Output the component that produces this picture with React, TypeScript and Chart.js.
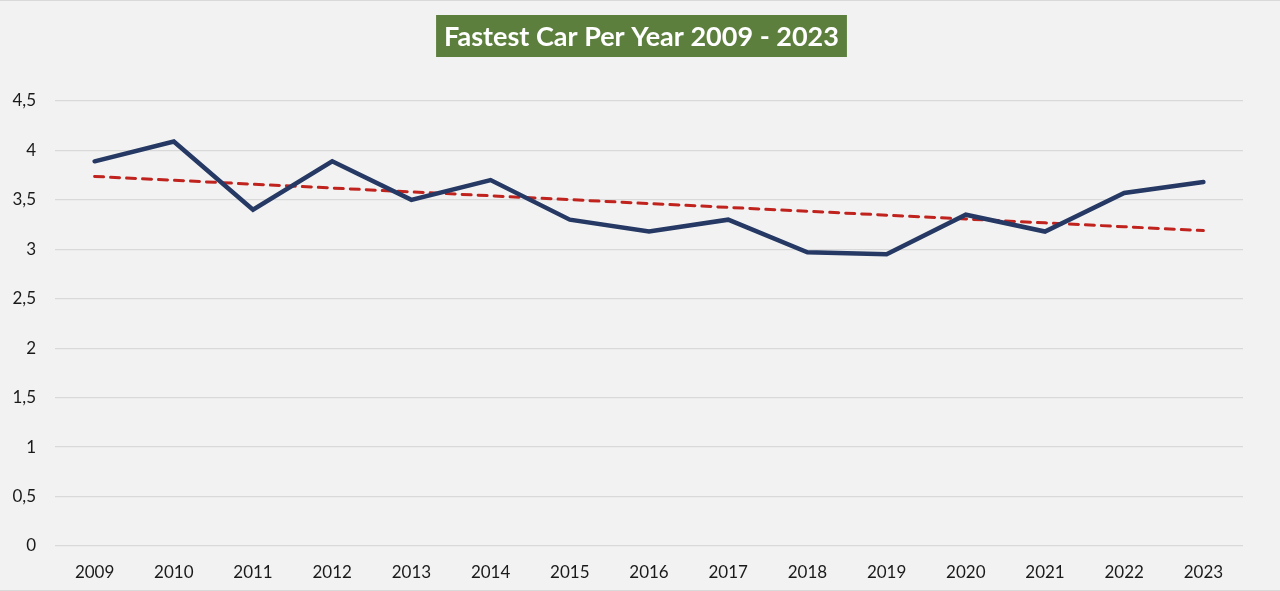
import React, { useEffect, useRef } from "react";
import { Chart, registerables } from "chart.js";

Chart.register(...registerables);

const years = ["2009","2010","2011","2012","2013","2014","2015","2016","2017","2018","2019","2020","2021","2022","2023"];
const fastest = [3.89, 4.09, 3.40, 3.89, 3.50, 3.70, 3.30, 3.18, 3.30, 2.97, 2.95, 3.35, 3.18, 3.57, 3.68];
const titleText = "Fastest Car Per Year 2009 - 2023";

// Linear least-squares trendline (as Excel's linear trendline)
function linearTrend(values: number[]): number[] {
  const n = values.length;
  const mx = (n - 1) / 2;
  const my = values.reduce((a, b) => a + b, 0) / n;
  let sxy = 0, sxx = 0;
  values.forEach((v, i) => { sxy += (i - mx) * (v - my); sxx += (i - mx) * (i - mx); });
  const slope = sxy / sxx;
  return values.map((_, i) => my + slope * (i - mx));
}
const trend = linearTrend(fastest);

const TITLE_FONT = "bold 27px Lato";

const titleBoxPlugin = {
  id: "titleBox",
  beforeDraw(chart: any) {
    const ctx = chart.ctx;
    ctx.save();
    ctx.font = TITLE_FONT;
    const w = ctx.measureText(titleText).width;
    const cx = 641.5;
    const boxW = w + 16;
    const boxH = 42;
    ctx.fillStyle = "#5d7f3e";
    ctx.fillRect(cx - boxW / 2, 14, boxW, boxH);
    ctx.fillStyle = "#ffffff";
    ctx.textAlign = "center";
    ctx.textBaseline = "middle";
    ctx.fillText(titleText, cx, 14 + boxH / 2 + 1);
    ctx.restore();
  },
};

export default function App() {
  const ref = useRef<HTMLCanvasElement | null>(null);
  useEffect(() => {
    document.body.style.margin = "0";
    const chart = new Chart(ref.current!, {
      type: "line",
      data: {
        labels: years,
        datasets: [
          {
            data: fastest,
            borderColor: "#253964",
            borderWidth: 4.5,
            pointRadius: 0,
            borderCapStyle: "round",
            borderJoinStyle: "miter",
            tension: 0,
            order: 1,
          },
          {
            data: trend,
            borderColor: "#c0231d",
            borderWidth: 3,
            borderDash: [9, 7],
            borderCapStyle: "round",
            pointRadius: 0,
            tension: 0,
            order: 2,
          },
        ],
      },
      options: {
        animation: false,
        responsive: false,
        devicePixelRatio: 1,
        layout: { padding: { top: 100, right: 37, bottom: 0, left: 0 } },
        plugins: {
          legend: { display: false },
          title: { display: false },
          tooltip: { enabled: false },
        },
        scales: {
          x: {
            offset: true,
            grid: { display: false, drawTicks: false },
            border: { display: false },
            ticks: {
              color: "#1a1a1a",
              font: { family: "Lato", size: 17 },
              padding: 16,
              maxRotation: 0,
            },
            afterFit(scale: any) { scale.height = 44; },
          },
          y: {
            min: 0,
            max: 4.5,
            grid: { color: "#d9d9d9", lineWidth: 1.3, drawTicks: false },
            border: { display: false },
            ticks: {
              stepSize: 0.5,
              color: "#1a1a1a",
              font: { family: "Lato", size: 17 },
              padding: 19,
              callback: (v: any) => String(v).replace(".", ","),
            },
            afterFit(scale: any) { scale.width = 55; },
          },
        },
      },
      plugins: [titleBoxPlugin],
    });
    return () => chart.destroy();
  }, []);
  return (
    <div style={{ width: 1280, height: 591, background: "#f2f2f2", position: "relative", boxSizing: "border-box", borderTop: "1px solid #d9d9d9", borderBottom: "1px solid #d9d9d9" }}>
      <canvas ref={ref} width={1280} height={589} style={{ display: "block" }} />
    </div>
  );
}
